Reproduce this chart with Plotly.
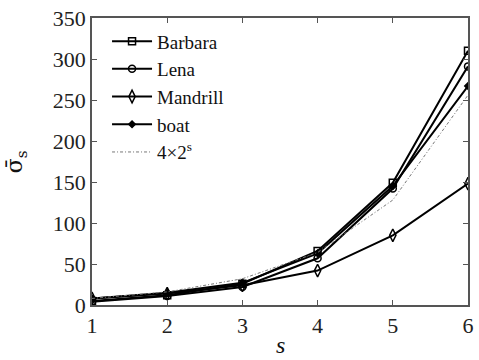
import plotly.graph_objects as go

s_vals = [1, 2, 3, 4, 5, 6]
barbara = [5, 12, 26, 66, 149, 310]
lena = [4, 11, 22, 57, 142, 291]
mandrill = [8, 14, 24, 42, 85, 148]
boat = [8, 15, 27, 63, 145, 267]
ref_curve = [8, 16, 32, 64, 128, 256]

series = [
    ("Barbara", barbara, "square-open", 7),
    ("Lena", lena, "circle-open", 7),
    ("Mandrill", mandrill, "diamond-tall-open", 9),
    ("boat", boat, "diamond", 5),
]

fig = go.Figure()
for name, vals, sym, sz in series:
    fig.add_trace(go.Scatter(
        x=s_vals, y=vals, name=name, mode="lines+markers",
        line=dict(color="black", width=2),
        marker=dict(symbol=sym, size=sz, color="black", line=dict(color="black", width=1.5)),
    ))
fig.add_trace(go.Scatter(
    x=s_vals, y=ref_curve, name="4×2<sup>s</sup>", mode="lines",
    line=dict(color="#777777", width=1, dash="3px,2px,1px,2px"),
))

font = "Liberation Serif"
axis_common = dict(
    showline=True, linecolor="#555555", linewidth=1.5, mirror="ticks",
    ticks="inside", ticklen=5, tickcolor="#555555", showgrid=False, zeroline=False,
    tickfont=dict(family=font, size=22, color="#222222"),
)
fig.update_layout(
    width=479, height=360,
    margin=dict(l=92, r=5, t=18, b=55),
    paper_bgcolor="white", plot_bgcolor="white",
    font=dict(family=font),
    showlegend=True,
    legend=dict(x=0.04, y=0.985, xanchor="left", yanchor="top",
                font=dict(family=font, size=19, color="#111111"),
                bgcolor="rgba(0,0,0,0)", tracegroupgap=0, itemwidth=40),
    xaxis=dict(range=[1, 6], tickvals=s_vals, **axis_common),
    yaxis=dict(range=[0, 350], tickvals=[0, 50, 100, 150, 200, 250, 300, 350], **axis_common),
)
fig.add_annotation(text="<i>s</i>", x=0.5, y=-0.14, xref="paper", yref="paper",
                   xanchor="center", yanchor="middle", showarrow=False,
                   font=dict(family=font, size=24, color="#111111"))
fig.add_annotation(text="σ̄<sub>s</sub>", x=-0.2, y=0.5, xref="paper", yref="paper",
                   textangle=-90, showarrow=False, xanchor="center", yanchor="middle",
                   font=dict(family="DejaVu Serif", size=22, color="#111111"))
fig.write_html("out.html", config={"displayModeBar": False},
               post_script="document.body.style.margin='0';")
